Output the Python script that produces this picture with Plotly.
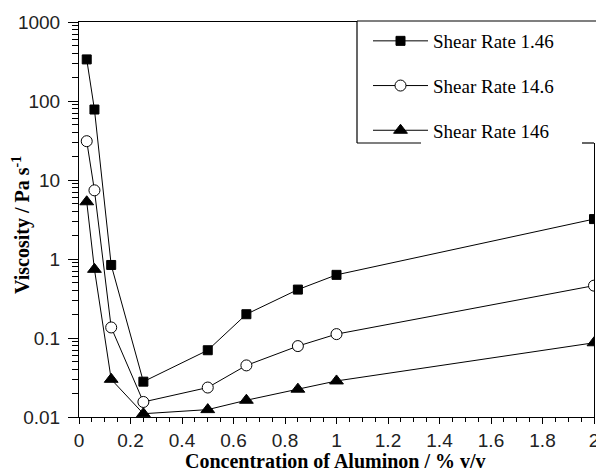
import plotly.graph_objects as go

# ---- data ----
conc = [0.03, 0.06, 0.125, 0.25, 0.5, 0.65, 0.85, 1.0, 2.0]
visc_146 = [336, 78, 0.84, 0.028, 0.070, 0.20, 0.41, 0.63, 3.2]
visc_14_6 = [31, 7.4, 0.136, 0.0155, 0.0236, 0.045, 0.079, 0.112, 0.46]
visc_146b = [5.3, 0.74, 0.030, 0.011, 0.0124, 0.0163, 0.0225, 0.0286, 0.087]
names = ["Shear Rate 1.46", "Shear Rate 14.6", "Shear Rate 146"]
x_ticks = [0, 0.2, 0.4, 0.6, 0.8, 1, 1.2, 1.4, 1.6, 1.8, 2]
x_ticktext = ["0", "0.2", "0.4", "0.6", "0.8", "1", "1.2", "1.4", "1.6", "1.8", "2"]
y_ticks = [0.01, 0.1, 1, 10, 100, 1000]
y_ticktext = ["0.01", "0.1", "1", "10", "100", "1000"]
x_title = "<b>Concentration of Aluminon / % v/v</b>"
y_title = "<b>Viscosity / Pa s<sup>-1</sup></b>"

W, H = 596, 475
L, R, T, B = 79, 2, 22, 58
pw, ph = W - L - R, H - T - B

def px(x):
    return (x - L) / pw

def py(y):
    return (H - B - y) / ph

fig = go.Figure()
series = [
    (visc_146, "square", "black", 9),
    (visc_14_6, "circle", "white", 11),
    (visc_146b, "triangle-up", "black", 12),
]
for i, (vals, sym, fill, size) in enumerate(series):
    fig.add_trace(go.Scatter(
        x=conc, y=vals, mode="lines+markers", name=names[i],
        legendgroup=str(i),
        line=dict(color="black", width=1),
        marker=dict(symbol=sym, size=size, color=fill,
                    line=dict(color="black", width=1)),
    ))

tickfont = dict(family="Liberation Sans", size=19, color="#222")
fig.update_xaxes(
    range=[0, 2], tickvals=x_ticks, ticktext=x_ticktext, automargin=False,
    ticklabeloverflow="allow",
    showline=True, linecolor="black", linewidth=1, mirror=True,
    ticks="outside", ticklen=6, tickcolor="black",
    minor=dict(ticks="outside", ticklen=4, dtick=0.05, tickcolor="black", showgrid=False),
    showgrid=False, zeroline=False, tickfont=tickfont,
)
fig.update_yaxes(
    type="log", range=[-2, 3], tickvals=y_ticks, ticktext=y_ticktext, automargin=False,
    ticklabeloverflow="allow", ticklabelstandoff=4,
    showline=True, linecolor="black", linewidth=1, mirror=True,
    ticks="outside", ticklen=10, tickcolor="black",
    minor=dict(ticks="outside", ticklen=6, dtick="D1", tickcolor="black", showgrid=False),
    showgrid=False, zeroline=False, tickfont=tickfont,
)

titlefont = dict(family="Liberation Serif", size=20, color="black")
annotations = [
    dict(text=x_title, xref="paper", yref="paper", x=px(335), y=py(461),
         xanchor="center", yanchor="middle", showarrow=False, font=titlefont),
    dict(text=y_title, xref="paper", yref="paper", x=px(21), y=py(225),
         xanchor="center", yanchor="middle", showarrow=False, font=titlefont,
         textangle=-90),
]

# legend box (white with border; bottom edge partly open as in the source)
bx0, bx1, by0, by1 = 357, 600, 21, 143
shapes = [
    dict(type="rect", xref="paper", yref="paper", x0=px(bx0), x1=px(bx1),
         y0=py(by1), y1=py(by0), fillcolor="white", line=dict(width=0), layer="above"),
    dict(type="line", xref="paper", yref="paper", x0=px(bx0), x1=px(bx1),
         y0=py(by0), y1=py(by0), line=dict(color="black", width=1.2), layer="above"),
    dict(type="line", xref="paper", yref="paper", x0=px(bx0), x1=px(bx0),
         y0=py(by0), y1=py(by1), line=dict(color="black", width=1.2), layer="above"),
    dict(type="line", xref="paper", yref="paper", x0=px(bx0), x1=px(421),
         y0=py(by1), y1=py(by1), line=dict(color="black", width=1.2), layer="above"),
    dict(type="line", xref="paper", yref="paper", x0=px(582), x1=px(W - R),
         y0=py(by1), y1=py(by1), line=dict(color="black", width=1.2), layer="above"),
]

fig.update_layout(
    width=W, height=H,
    margin=dict(l=L, r=R, t=T, b=B),
    plot_bgcolor="white", paper_bgcolor="white",
    shapes=shapes, annotations=annotations,
    legend=dict(
        x=px(368), y=py(22), xanchor="left", yanchor="top",
        bgcolor="rgba(0,0,0,0)", borderwidth=0,
        font=dict(family="Liberation Serif", size=19, color="black"),
        tracegroupgap=17, itemwidth=55,
    ),
)
fig.write_html("out.html", config={"displayModeBar": False},
               post_script="document.body.style.margin='0px';document.body.style.padding='0px';")
